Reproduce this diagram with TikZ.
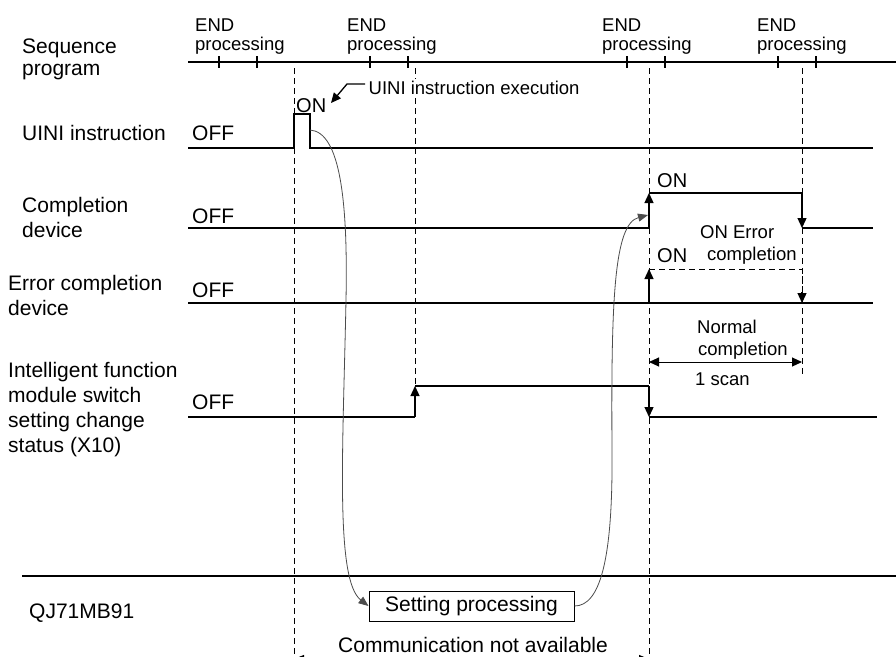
\documentclass[tikz,border=0pt]{standalone}
\usepackage{fontspec}
\setmainfont{Liberation Sans}
\usetikzlibrary{arrows.meta}
\begin{document}
\begin{tikzpicture}[x=1pt,y=-1pt,
  lbl/.style={anchor=base west,inner sep=0pt,font=\fontsize{21}{25}\selectfont},
  slbl/.style={anchor=base west,inner sep=0pt,font=\fontsize{18.5}{22}\selectfont},
  sig/.style={line width=1.3pt,line join=miter},
  heavy/.style={line width=2.5pt},
  guide/.style={dash pattern=on 6pt off 4pt,line width=0.9pt},
  arr/.style={-{Triangle[length=10pt,width=9pt]}},
  crv/.style={line width=0.8pt,draw=black!70},
  spbox/.style={draw,line width=1pt,minimum width=205pt,minimum height=30pt,inner sep=0pt,font=\fontsize{21}{25}\selectfont},
]
\clip (0,0) rectangle (896,656);
\fill[white] (0,0) rectangle (896,656);

% sequence program time line
\draw[heavy] (188,62) -- (896,62);
\foreach \x in {219,257,370,408,627,665,778,816}
  \draw[line width=2pt] (\x,56) -- (\x,68);
\foreach \x in {195,347,602,757} {
  \node[slbl] at (\x,31) {END};
  \node[slbl] at (\x,50) {processing};
}

% guide lines
\draw[guide] (294,68) -- (294,656);
\draw[guide] (415,68) -- (415,386);
\draw[guide] (649,68) -- (649,656);
\draw[guide] (802,68) -- (802,377);

% left labels
\node[lbl] at (22,53) {Sequence};
\node[lbl] at (22,75) {program};
\node[lbl] at (22,140) {UINI instruction};
\node[lbl] at (22,212) {Completion};
\node[lbl] at (22,237) {device};
\node[lbl] at (8,290) {Error completion};
\node[lbl] at (8,315) {device};
\node[lbl] at (8,377) {Intelligent function};
\node[lbl] at (8,402) {module switch};
\node[lbl] at (8,427) {setting change};
\node[lbl] at (8,452) {status (X10)};
\node[lbl] at (29,618) {QJ71MB91};

% OFF labels
\node[lbl] at (192,140) {OFF};
\node[lbl] at (192,223) {OFF};
\node[lbl] at (192,297) {OFF};
\node[lbl] at (192,409) {OFF};

% UINI instruction
\draw[sig] (188,148) -- (294,148) -- (294,114) -- (310,114) -- (310,148) -- (873,148);
\coordinate (pulse) at (310,130);
\node[lbl,font=\fontsize{20}{24}\selectfont] at (296,112) {ON};
\node[slbl,fill=white,inner sep=1.5pt] (exec) at (367,94) {UINI instruction execution};
\draw[sig,arr] (365,84) -- (347,84) -- (331,103);

% completion device
\draw[sig] (188,228) -- (649,228);
\draw[sig,arr] (649,228) -- (649,193);
\draw[sig] (649,193) -- (802,193);
\draw[sig,arr] (802,193) -- (802,228);
\draw[sig] (802,228) -- (873,228);
\node[lbl,font=\fontsize{20}{24}\selectfont] at (657,187) {ON};

% error completion device
\draw[heavy] (188,303) -- (873,303);
\draw[sig,arr] (649,303) -- (649,269);
\draw[guide] (649,269) -- (802,269) -- (802,293);
\draw[sig,arr] (802,292) -- (802,303);
\node[lbl,font=\fontsize{20}{24}\selectfont] at (657,262) {ON};
\node[slbl] at (700,238) {ON Error};
\node[slbl] at (707,260) {completion};
\node[slbl] at (697,333) {Normal};
\node[slbl] at (698,355) {completion};

% 1 scan
\draw[line width=1pt,{Triangle[length=10pt,width=9pt]}-{Triangle[length=10pt,width=9pt]}] (649,362) -- (802,362);
\node[slbl] at (695,385) {1 scan};

% X10
\draw[sig] (188,417) -- (415,417);
\draw[sig,arr] (415,417) -- (415,386);
\draw[sig] (415,386) -- (649,386);
\draw[sig,arr] (649,386) -- (649,417);
\draw[sig] (649,417) -- (877,417);

% module section
\draw[line width=2pt] (22,576) -- (896,576);
\node[spbox] (sp) at (471.5,606) {Setting processing};
\node[lbl] at (338,652) {Communication not available};
\draw[line width=1pt,{Triangle[length=10pt,width=8pt]}-{Triangle[length=10pt,width=8pt]}] (294,659) -- (649,659);

% curves
\draw[crv,-{Triangle[length=10pt,width=8pt]}] (pulse) .. controls (340,132) and (348,200) .. (346,300)
  .. controls (343,450) and (335,580) .. (sp.west);
\coordinate (rise) at (648,215);
\draw[crv,-{Triangle[length=10pt,width=8pt]}] (sp.east) .. controls (600,606) and (613,560) .. (612,450)
  .. controls (611,300) and (614,224) .. (rise);
\end{tikzpicture}
\end{document}
